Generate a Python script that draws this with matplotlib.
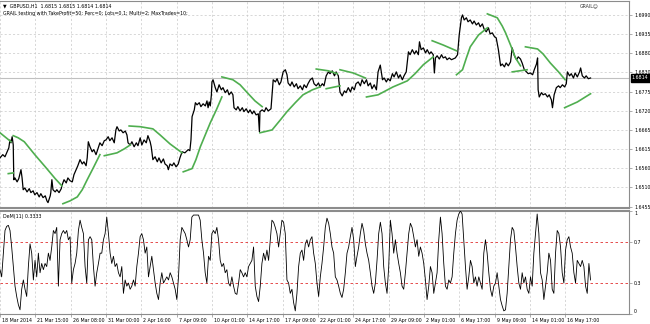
import numpy as np
import matplotlib.pyplot as plt
import matplotlib.transforms as mtransforms

plt.rcParams['font.family'] = 'DejaVu Sans'
FS = 3.4

# GBPUSD H1 closes, x = bar number from 18 Mar 2014
price_bar = [0, 5, 9, 13, 16, 18, 20, 22, 24, 25,
             27, 31, 34, 38, 40, 42, 45, 49, 53, 56,
             60, 63, 67, 71, 74, 78, 82, 85, 87, 91,
             92, 94, 96, 100, 103, 107, 111, 112, 116, 120,
             123, 127, 131, 134, 138, 141, 145, 149, 152, 156,
             158, 160, 163, 167, 170, 174, 178, 181, 185, 189,
             192, 196, 199, 203, 207, 210, 212, 216, 219, 223,
             227, 230, 232, 236, 239, 243, 247, 250, 254, 257,
             261, 265, 268, 272, 274, 277, 281, 285, 288, 292,
             296, 299, 303, 305, 308, 312, 315, 319, 323, 326,
             330, 335, 341, 344, 346, 348, 352, 354, 357, 361,
             364, 368, 372, 375, 377, 379, 381, 383, 384, 386,
             390, 393, 397, 401, 404, 408, 412, 415, 419, 422,
             424, 428, 431, 435, 439, 442, 446, 450, 453, 457,
             460, 464, 468, 470, 471, 475, 479, 482, 486, 491,
             495, 499, 502, 506, 509, 513, 517, 520, 522, 526,
             529, 533, 537, 540, 544, 548, 551, 555, 558, 562,
             566, 569, 573, 577, 580, 584, 587, 591, 595, 598,
             602, 606, 609, 613, 616, 620, 624, 627, 631, 635,
             638, 642, 645, 649, 653, 656, 660, 664, 667, 671,
             674, 678, 682, 685, 689, 693, 696, 700, 703, 707,
             711, 714, 718, 722, 725, 729, 732, 736, 740, 743,
             747, 751, 754, 758, 760, 763, 767, 771, 774, 778,
             781, 785, 787, 789, 792, 796, 800, 803, 807, 810,
             814, 818, 821, 825, 829, 832, 836, 838, 841, 845,
             848, 852, 856, 859, 863, 867, 870, 874, 877, 881,
             885, 888, 892, 896, 899, 903, 907, 910, 914, 917,
             921, 925, 928, 932, 936, 939, 943, 946, 950, 954,
             957, 961, 965, 968, 972, 974, 975, 977, 981, 984,
             988, 992, 995, 999, 1001, 1004, 1008, 1012, 1015, 1019,
             1023, 1026, 1028, 1032, 1035, 1039, 1042, 1046, 1050, 1052,
             1055, 1059, 1062, 1066, 1070]
price_close = [1.6591, 1.6600, 1.6594, 1.6608, 1.6619, 1.6641, 1.6633, 1.6650, 1.6627, 1.6530,
               1.6535, 1.6524, 1.6533, 1.6558, 1.6535, 1.6502, 1.6507, 1.6496, 1.6505, 1.6494,
               1.6499, 1.6488, 1.6494, 1.6482, 1.6491, 1.6480, 1.6485, 1.6471, 1.6466, 1.6485,
               1.6494, 1.6530, 1.6502, 1.6496, 1.6502, 1.6494, 1.6505, 1.6513, 1.6530, 1.6521,
               1.6535, 1.6527, 1.6524, 1.6544, 1.6558, 1.6569, 1.6586, 1.6574, 1.6580, 1.6569,
               1.6591, 1.6636, 1.6622, 1.6608, 1.6614, 1.6600, 1.6619, 1.6633, 1.6625, 1.6639,
               1.6641, 1.6650, 1.6639, 1.6647, 1.6633, 1.6669, 1.6678, 1.6666, 1.6669, 1.6661,
               1.6666, 1.6655, 1.6633, 1.6627, 1.6636, 1.6622, 1.6633, 1.6625, 1.6647, 1.6627,
               1.6641, 1.6633, 1.6653, 1.6636, 1.6622, 1.6586, 1.6594, 1.6580, 1.6591, 1.6577,
               1.6588, 1.6574, 1.6569, 1.6558, 1.6574, 1.6569, 1.6577, 1.6566, 1.6574, 1.6591,
               1.6608, 1.6605, 1.6614, 1.6611, 1.6641, 1.6706, 1.6725, 1.6745, 1.6739, 1.6745,
               1.6734, 1.6742, 1.6736, 1.6750, 1.6731, 1.6747, 1.6736, 1.6767, 1.6803, 1.6809,
               1.6787, 1.6775, 1.6795, 1.6781, 1.6787, 1.6773, 1.6781, 1.6767, 1.6775, 1.6767,
               1.6731, 1.6725, 1.6734, 1.6722, 1.6731, 1.6720, 1.6728, 1.6717, 1.6725, 1.6714,
               1.6722, 1.6711, 1.6714, 1.6664, 1.6720, 1.6725, 1.6720, 1.6731, 1.6722, 1.6728,
               1.6809, 1.6803, 1.6812, 1.6795, 1.6803, 1.6831, 1.6837, 1.6823, 1.6800, 1.6792,
               1.6803, 1.6789, 1.6798, 1.6784, 1.6792, 1.6781, 1.6795, 1.6787, 1.6798, 1.6809,
               1.6814, 1.6798, 1.6792, 1.6800, 1.6789, 1.6798, 1.6792, 1.6820, 1.6831, 1.6826,
               1.6834, 1.6820, 1.6831, 1.6820, 1.6775, 1.6764, 1.6778, 1.6773, 1.6787, 1.6775,
               1.6789, 1.6781, 1.6798, 1.6803, 1.6792, 1.6809, 1.6798, 1.6809, 1.6792, 1.6800,
               1.6784, 1.6795, 1.6781, 1.6831, 1.6850, 1.6809, 1.6814, 1.6803, 1.6812, 1.6806,
               1.6826, 1.6817, 1.6831, 1.6814, 1.6823, 1.6809, 1.6820, 1.6831, 1.6887, 1.6879,
               1.6893, 1.6881, 1.6890, 1.6879, 1.6915, 1.6893, 1.6898, 1.6884, 1.6893, 1.6881,
               1.6887, 1.6879, 1.6828, 1.6870, 1.6876, 1.6867, 1.6879, 1.6870, 1.6873, 1.6865,
               1.6870, 1.6865, 1.6867, 1.6870, 1.6879, 1.6934, 1.6982, 1.6990, 1.6976, 1.6982,
               1.6971, 1.6976, 1.6965, 1.6973, 1.6962, 1.6968, 1.6957, 1.6965, 1.6951, 1.6943,
               1.6954, 1.6937, 1.6940, 1.6929, 1.6926, 1.6893, 1.6848, 1.6853, 1.6845, 1.6856,
               1.6848, 1.6859, 1.6898, 1.6876, 1.6865, 1.6873, 1.6867, 1.6856, 1.6837, 1.6831,
               1.6826, 1.6828, 1.6823, 1.6837, 1.6853, 1.6870, 1.6781, 1.6761, 1.6773, 1.6767,
               1.6770, 1.6761, 1.6767, 1.6753, 1.6731, 1.6767, 1.6787, 1.6792, 1.6787, 1.6795,
               1.6789, 1.6798, 1.6831, 1.6820, 1.6826, 1.6814, 1.6828, 1.6817, 1.6831, 1.6842,
               1.6820, 1.6814, 1.6820, 1.6812, 1.6814]
last_price = 1.6814

# GRAIL indicator lines (one list per segment)
grail_bars = [[0, 20], [15, 24],
              [24, 33, 44, 63, 82, 100, 112],
              [114, 127, 140, 149, 158, 169, 181],
              [189, 212, 225, 236],
              [234, 254, 277, 290, 308, 330],
              [332, 348, 355, 363, 381, 392, 402],
              [402, 422, 435, 448, 462, 475],
              [471, 493, 508, 520, 535, 549, 566, 580],
              [573, 595, 611], [591, 616], [616, 640, 662],
              [664, 685, 712, 738, 752, 767, 785],
              [783, 803, 827],
              [827, 838, 845, 852, 867, 883],
              [883, 901, 910, 916, 925, 934, 943],
              [928, 955],
              [952, 974, 984, 997, 1012, 1024],
              [1023, 1046, 1070]]
grail_prices = [[1.6661, 1.6636], [1.6547, 1.6549],
                [1.6653, 1.6647, 1.6636, 1.6600, 1.6566, 1.6533, 1.6513],
                [1.6463, 1.6471, 1.6482, 1.6502, 1.6530, 1.6563, 1.6600],
                [1.6597, 1.6605, 1.6616, 1.6627],
                [1.6680, 1.6678, 1.6672, 1.6655, 1.6630, 1.6605],
                [1.6552, 1.6561, 1.6586, 1.6622, 1.6689, 1.6725, 1.6761],
                [1.6817, 1.6809, 1.6795, 1.6773, 1.6750, 1.6734],
                [1.6661, 1.6669, 1.6697, 1.6720, 1.6745, 1.6767, 1.6781, 1.6789],
                [1.6839, 1.6834, 1.6826], [1.6784, 1.6792], [1.6837, 1.6828, 1.6814],
                [1.6761, 1.6767, 1.6789, 1.6806, 1.6826, 1.6851, 1.6873],
                [1.6918, 1.6906, 1.6890],
                [1.6823, 1.6837, 1.6870, 1.6901, 1.6934, 1.6954],
                [1.6993, 1.6982, 1.6959, 1.6940, 1.6906, 1.6870, 1.6848],
                [1.6831, 1.6837],
                [1.6901, 1.6895, 1.6881, 1.6856, 1.6831, 1.6809],
                [1.6731, 1.6747, 1.6770]]

# DeM(11), sampled every ~3 bars over the same span
dem = [0.43, 0.36, 0.59, 0.81, 0.85, 0.86, 0.81, 0.65, 0.46, 0.27,
       0.17, 0.09, 0.04, 0.24, 0.33, 0.24, 0.17, 0.46, 0.68, 0.59,
       0.33, 0.52, 0.36, 0.59, 0.40, 0.49, 0.43, 0.49, 0.46, 0.59,
       0.52, 0.65, 0.81, 0.78, 0.84, 0.27, 0.72, 0.78, 0.81, 0.78,
       0.81, 0.72, 0.75, 0.30, 0.43, 0.49, 0.59, 0.81, 0.91, 0.84,
       0.78, 0.46, 0.30, 0.72, 0.75, 0.72, 0.46, 0.27, 0.40, 0.49,
       0.59, 0.59, 0.72, 0.78, 0.94, 0.78, 0.59, 0.49, 0.56, 0.46,
       0.49, 0.40, 0.36, 0.46, 0.20, 0.33, 0.27, 0.30, 0.24, 0.27,
       0.33, 0.27, 0.46, 0.59, 0.75, 0.78, 0.72, 0.59, 0.65, 0.36,
       0.46, 0.56, 0.43, 0.30, 0.20, 0.14, 0.30, 0.40, 0.30, 0.33,
       0.36, 0.33, 0.40, 0.36, 0.30, 0.24, 0.14, 0.36, 0.72, 0.84,
       0.81, 0.78, 0.72, 0.65, 0.72, 0.94, 0.96, 0.96, 0.96, 0.96,
       0.91, 0.72, 0.59, 0.40, 0.30, 0.56,
       0.52, 0.78, 0.81, 0.78, 0.84, 0.72, 0.52, 0.46, 0.49, 0.40,
       0.43, 0.30, 0.27, 0.36, 0.27, 0.20, 0.19, 0.30, 0.43, 0.40,
       0.36, 0.40, 0.36, 0.46, 0.49, 0.52, 0.65, 0.27, 0.17, 0.12,
       0.27, 0.49, 0.59, 0.52, 0.62, 0.52, 0.72, 0.91, 0.89, 0.84,
       0.78, 0.65, 0.78, 0.91, 0.89, 0.78, 0.33, 0.30, 0.20, 0.24,
       0.11, 0.03, 0.20, 0.46, 0.59, 0.62, 0.52, 0.68, 0.72, 0.65,
       0.72, 0.75, 0.59, 0.49, 0.30, 0.17, 0.36, 0.49, 0.65, 0.84,
       0.93, 0.88, 0.78, 0.65, 0.59, 0.36, 0.33, 0.27, 0.20, 0.16,
       0.24, 0.40, 0.59, 0.65, 0.75, 0.84, 0.72, 0.46, 0.56, 0.65,
       0.78, 0.88, 0.81, 0.68, 0.59, 0.52, 0.40, 0.27, 0.20, 0.30,
       0.52, 0.78, 0.89, 0.78, 0.46, 0.30, 0.20, 0.46, 0.91, 0.78,
       0.59, 0.72, 0.59, 0.49, 0.40, 0.27, 0.24, 0.40, 0.59, 0.78,
       0.88, 0.84, 0.75, 0.65, 0.72, 0.56,
       0.65, 0.59, 0.49, 0.33, 0.14, 0.27, 0.46, 0.40, 0.20, 0.30,
       0.40, 0.72, 0.94, 0.78, 0.49, 0.27, 0.24, 0.33, 0.30, 0.36,
       0.59, 0.78, 0.91, 0.97, 1.00, 0.97, 0.72, 0.46, 0.24, 0.36,
       0.52, 0.46, 0.30, 0.36, 0.27, 0.36, 0.30, 0.24, 0.59, 0.72,
       0.59, 0.40, 0.24, 0.17, 0.27, 0.30, 0.40, 0.27, 0.14, 0.08,
       0.03, 0.04, 0.20, 0.46, 0.72, 0.84, 0.81, 0.65, 0.46, 0.30,
       0.24, 0.40, 0.30, 0.36, 0.24, 0.20, 0.36, 0.27, 0.59, 0.78,
       0.97, 0.78, 0.40, 0.33, 0.14, 0.27, 0.40, 0.59, 0.52, 0.24,
       0.20, 0.59, 0.81, 0.78, 0.65, 0.40, 0.30, 0.62, 0.72, 0.75,
       0.65, 0.59, 0.40, 0.30, 0.52, 0.49, 0.46, 0.52, 0.46, 0.27,
       0.20, 0.49, 0.33]
dem_last_bar = 1070

price_labels = ['1.6455', '1.6510', '1.6560', '1.6615', '1.6665', '1.6720',
                '1.6775', '1.6830', '1.6880', '1.6935', '1.6990']
time_labels = ['18 Mar 2014', '21 Mar 15:00', '26 Mar 08:00', '31 Mar 00:00',
               '2 Apr 16:00', '7 Apr 09:00', '10 Apr 01:00', '14 Apr 17:00',
               '17 Apr 09:00', '22 Apr 01:00', '24 Apr 17:00', '29 Apr 09:00',
               '2 May 01:00', '6 May 17:00', '9 May 09:00', '14 May 01:00',
               '16 May 17:00']
bars_per_label = 64

grid_kw = dict(color='#c8c8c8', linestyle=(0, (3, 3)), linewidth=0.5)
frame = '#8c8c8c'

fig = plt.figure(figsize=(6.5, 3.24), dpi=100)
ax = fig.add_axes([0, 0.358, 0.968, 0.639])
ax2 = fig.add_axes([0, 0.031, 0.968, 0.318], sharex=ax)

# ---- price panel ----
ax.plot(price_bar, price_close, color='black', lw=0.9, zorder=3)
for bx, py in zip(grail_bars, grail_prices):
    ax.plot(bx, py, color='#4fae4f', lw=1.2, zorder=4)
ax.axhline(last_price, color='#c0c0c0', lw=0.8, zorder=1)

ax.set_xlim(0, 1140)
ax.set_ylim(1.6451, 1.7029)
ax.set_yticks(np.linspace(1.6455, 1.6990, len(price_labels)))
ax.set_yticklabels(price_labels)
ax.yaxis.tick_right()
ax.tick_params(axis='y', labelsize=FS, length=2, width=0.5, color=frame, pad=1.5)
ax.tick_params(axis='x', labelbottom=False, length=0)
ax.grid(True, **grid_kw)

ax.text(1.004, last_price, '1.6814', transform=ax.get_yaxis_transform(),
        fontsize=FS, color='white', va='center', ha='left', clip_on=False,
        bbox=dict(boxstyle='square,pad=0.25', fc='black', ec='black'))
ax.text(0.005, 0.975, '\u25bc  GBPUSD,H1  1.6815 1.6815 1.6814 1.6814',
        transform=ax.transAxes, fontsize=FS, va='center', ha='left')
ax.text(0.005, 0.94, 'GRAIL testing with TakeProfit=50; Perc=0; Lots=0.1; Multi=2; MaxTrades=10;',
        transform=ax.transAxes, fontsize=FS, va='center', ha='left')
ax.text(0.951, 0.975, 'GRAIL\u263a', transform=ax.transAxes, fontsize=FS,
        va='center', ha='right', color='#333333')

# ---- DeM panel ----
dem_x = np.linspace(0, dem_last_bar, len(dem))
ax2.plot(dem_x, dem, color='black', lw=0.6, zorder=3)
for lvl in (0.3, 0.7):
    ax2.axhline(lvl, color='#e03030', lw=0.6, linestyle=(0, (3, 3)), zorder=2)
ax2.set_ylim(0, 1)
ax2.set_yticks([0, 0.3, 0.7, 1])
ax2.set_yticklabels(['0', '0.3', '0.7', '1'])
ax2.yaxis.tick_right()
ax2.tick_params(axis='y', labelsize=FS, length=2, width=0.5, color=frame, pad=1.5)
ylabs = ax2.get_yticklabels()
ylabs[0].set_va('bottom')
ylabs[-1].set_va('top')
ax2.xaxis.grid(True, **grid_kw)
ax2.text(0.005, 0.95, 'DeM(11) 0.3333', transform=ax2.transAxes,
         fontsize=FS, va='center', ha='left')

ax2.set_xticks(np.arange(len(time_labels)) * bars_per_label)
ax2.set_xticklabels(time_labels)
ax2.tick_params(axis='x', labelsize=FS, length=2, width=0.5, color=frame, pad=1)
shift = mtransforms.ScaledTranslation(1.5 / 72, 0, fig.dpi_scale_trans)
for lbl in ax2.get_xticklabels():
    lbl.set_ha('left')
    lbl.set_transform(lbl.get_transform() + shift)

for a in (ax, ax2):
    a.spines['left'].set_visible(False)
    for s in ('top', 'right', 'bottom'):
        a.spines[s].set_color(frame)
        a.spines[s].set_linewidth(0.8)
ax.spines['bottom'].set_linewidth(1.5)
ax2.spines['top'].set_linewidth(1.5)

fig.savefig('out.png', dpi=100, facecolor='white')
